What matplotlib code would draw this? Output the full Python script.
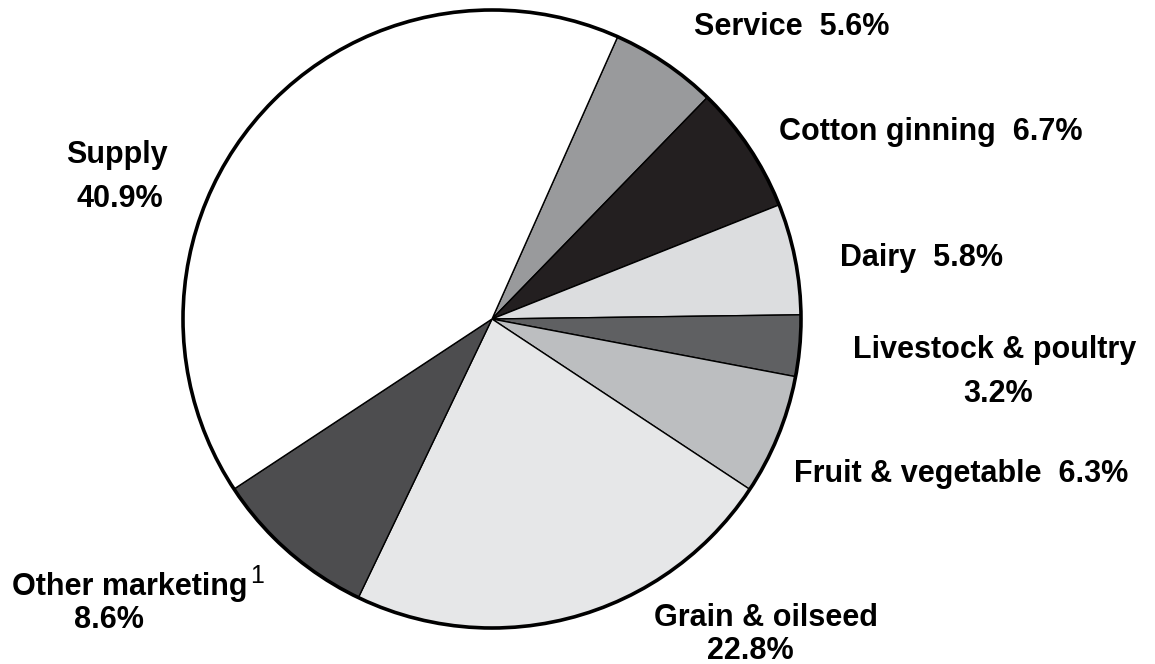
import matplotlib
matplotlib.use("Agg")
import matplotlib.pyplot as plt
from matplotlib.patches import Circle

# slices, clockwise from the Supply/Service boundary
categories = ["Service", "Cotton ginning", "Dairy", "Livestock & poultry",
              "Fruit & vegetable", "Grain & oilseed", "Other marketing", "Supply"]
shares = [5.6, 6.7, 5.8, 3.2, 6.3, 22.8, 8.6, 40.9]
colors = ["#999a9c", "#231f20", "#dcdddf", "#5f6062",
          "#bcbec0", "#e6e7e8", "#4d4d4f", "#ffffff"]

W, H = 1155, 664
CX, CY, R = 492, H - 319, 309


def Y(py):
    return H - py


fig = plt.figure(figsize=(W / 100, H / 100), dpi=100)
ax = fig.add_axes([0, 0, 1, 1])

ax.pie(shares, colors=colors, startangle=66.0, counterclock=False,
       center=(CX, CY), radius=R, frame=True,
       wedgeprops=dict(edgecolor="black", linewidth=1.0))
ax.set_xlim(0, W); ax.set_ylim(0, H)
ax.set_aspect("equal"); ax.axis("off")
ax.add_patch(Circle((CX, CY), R, fill=False, edgecolor="black", lw=2.6, zorder=5))

FONT = dict(family=["Liberation Sans", "DejaVu Sans"], fontsize=22, weight="bold",
            ha="center", va="baseline", color="black")
pct = {c: f"{s:.1f}%" for c, s in zip(categories, shares)}

ax.text(792, Y(35), "Service  " + pct["Service"], **FONT)
ax.text(931, Y(140), "Cotton ginning  " + pct["Cotton ginning"], **FONT)
ax.text(921, Y(266), "Dairy  " + pct["Dairy"], **FONT)
ax.text(995, Y(358), "Livestock & poultry", **FONT)
ax.text(998, Y(402), pct["Livestock & poultry"], **FONT)
ax.text(961, Y(482), "Fruit & vegetable  " + pct["Fruit & vegetable"], **FONT)
ax.text(766, Y(626), "Grain & oilseed", **FONT)
ax.text(750, Y(659), pct["Grain & oilseed"], **FONT)
ax.text(130, Y(595), "Other marketing", **FONT)
ax.text(250, Y(583), "1", family=["Liberation Sans", "DejaVu Sans"], fontsize=18,
        ha="left", va="baseline")
ax.text(109, Y(628), pct["Other marketing"], **FONT)
ax.text(117, Y(163), "Supply", **FONT)
ax.text(120, Y(207), pct["Supply"], **FONT)

fig.savefig("out.png", dpi=100)
